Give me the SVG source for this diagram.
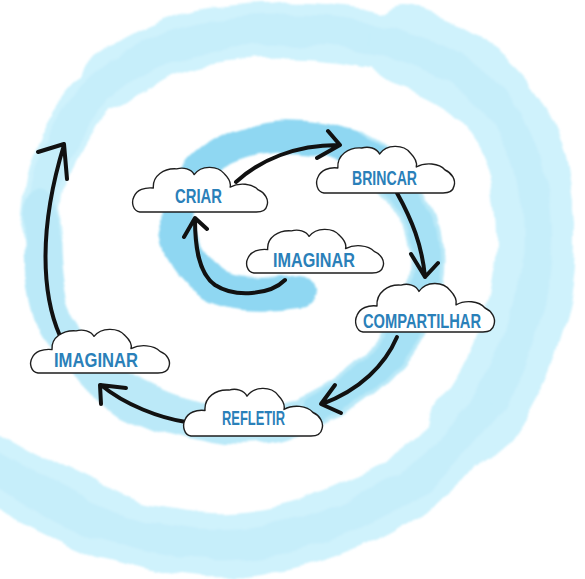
<svg xmlns="http://www.w3.org/2000/svg" width="585" height="579" viewBox="0 0 585 579">
<defs>
<filter id="wc" x="-15%" y="-15%" width="130%" height="130%">
<feTurbulence type="fractalNoise" baseFrequency="0.018" numOctaves="3" seed="4" result="n"/>
<feDisplacementMap in="SourceGraphic" in2="n" scale="16" xChannelSelector="R" yChannelSelector="G"/>
<feGaussianBlur stdDeviation="1.3"/>
</filter>
<path id="cloud" d="M8,48 C1,47 -1,38 2,32 C5,25 13,22 22,23 C21,10 33,2 46,3 C53,1 61,3 64,9 C71,-1 88,-1 95,8 C100,13 102,18 101,22 C110,17 124,18 130,25 C137,28 141,35 139,41 C138,46 134,48 128,48 Z"/>
<style>
.cl{fill:#fff;stroke:#1e1e1e;stroke-width:1.4;vector-effect:non-scaling-stroke;stroke-linejoin:round}
.lb{font-family:"Liberation Sans","DejaVu Sans",sans-serif;font-weight:bold;fill:#2a80b9;font-size:21px}
.ar{fill:none;stroke:#111;stroke-width:4;stroke-linecap:round;stroke-linejoin:round}
.sp{fill:none;stroke-linecap:round;stroke-linejoin:round}
</style>
</defs>
<rect width="585" height="579" fill="#fff"/>
<g id="spiral" filter="url(#wc)">
<path class="sp" stroke="#cff2fc" stroke-width="42" d="M41.5,230 Q38,250 41.5,210 Q45,170 65,132.5 Q85,95 122.5,70"/>
<path class="sp" stroke="#cff2fc" stroke-width="56" d="M110,80 Q160,45 210,36.5 Q260,28 315,31.5 Q370,35 415,50"/>
<path class="sp" stroke="#cff2fc" stroke-width="80" d="M405,47 Q460,65 489,95 Q518,125 528,167.5 Q538,210 535.5,255 Q533,300 516.5,345 Q500,390 470,427.5"/>
<path class="sp" stroke="#cff2fc" stroke-width="64" d="M470,427.5 Q440,465 390,495 Q340,525 285,537.5 Q230,550 180,542.5 Q130,535 90,517.5 Q50,500 10,477.5 Q-30,455 -60,435"/>
<path class="sp" stroke="#c2ecfa" stroke-width="30" opacity="0.7" d="M41.5,210 Q45,170 65,132.5 Q85,95 122.5,70 Q160,45 210,36.5 Q260,28 315,31.5 Q370,35 415,50 Q460,65 489,95 Q518,125 528,167.5 Q538,210 535.5,255 Q533,300 516.5,345 Q500,390 470,427.5 Q440,465 390,495 Q340,525 285,537.5 Q230,550 180,542.5 Q130,535 90,517.5 Q50,500 10,477.5 Q-30,455 -60,435"/>
<path class="sp" stroke="#bbe9f8" stroke-width="38" d="M357.5,151.5 Q385,165 401.5,187.5 Q418,210 423,235 Q428,260 423,285 Q418,310 404,332.5 Q390,355 367.5,375 Q345,395 315,410 Q285,425 250,426.5 Q215,428 180,416.5 Q145,405 115,387.5 Q85,370 67.5,345 Q50,320 44,285 Q38,250 41.5,210"/>
<path class="sp" stroke="#a2dff5" stroke-width="30" opacity="0.85" d="M357.5,151.5 Q385,165 401.5,187.5 Q418,210 423,235 Q428,260 423,285 Q418,310 404,332.5 Q390,355 367.5,375 Q345,395 315,410"/>
<path class="sp" stroke="#8fd7f2" stroke-width="32" d="M298,290 Q240,298 214,283 Q188,268 180,241.5 Q172,215 186,187.5 Q200,160 230,147.5 Q260,135 295,136.5 Q330,138 357.5,151.5 Q385,165 395,178"/>
</g>
<g id="connectors">
<path class="ar" d="M236,182 C260,160 295,145 338,145 M328,131 L340,145 L317,158"/>
<path class="ar" d="M397,193 C412,220 422,245 425,277 M411,254 L425,277 L438,263"/>
<path class="ar" d="M397,337 C385,365 360,390 322,404 M335,385 L321,404 L341,413"/>
<path class="ar" d="M186,422 C160,418 125,405 101,385 M126,388 L100,385 L101,404"/>
<path class="ar" d="M60,336 C42,295 38,230 64,145 M38,152 L64,144 L67,179"/>
<path class="ar" d="M285,280 C270,295 235,298 215,285 C198,273 195,245 195,219 M184,237 L195,218 L207,229"/>
</g>
<g id="n-criar">
<use href="#cloud" class="cl" transform="translate(132,166) scale(0.9714,0.9583)"/>
<text class="lb" x="175" y="203" font-size="18" textLength="47" lengthAdjust="spacingAndGlyphs">CRIAR</text>
</g>
<g id="n-brincar">
<use href="#cloud" class="cl" transform="translate(316,145) scale(0.9929,1)"/>
<text class="lb" x="352" y="185" textLength="65" lengthAdjust="spacingAndGlyphs">BRINCAR</text>
</g>
<g id="n-imaginar-centro">
<use href="#cloud" class="cl" transform="translate(246,228) scale(0.9857,0.9375)"/>
<text class="lb" x="273" y="267" textLength="82" lengthAdjust="spacingAndGlyphs">IMAGINAR</text>
</g>
<g id="n-compartilhar">
<use href="#cloud" class="cl" transform="translate(355,282) scale(1,1.0417)"/>
<text class="lb" x="363" y="328" textLength="118" lengthAdjust="spacingAndGlyphs">COMPARTILHAR</text>
</g>
<g id="n-imaginar">
<use href="#cloud" class="cl" transform="translate(30,328) scale(1,0.9375)"/>
<text class="lb" x="54" y="367" textLength="84" lengthAdjust="spacingAndGlyphs">IMAGINAR</text>
</g>
<g id="n-refletir">
<use href="#cloud" class="cl" transform="translate(183,387) scale(1,1.0208)"/>
<text class="lb" x="222" y="425" font-size="22" textLength="63" lengthAdjust="spacingAndGlyphs">REFLETIR</text>
</g>
</svg>
